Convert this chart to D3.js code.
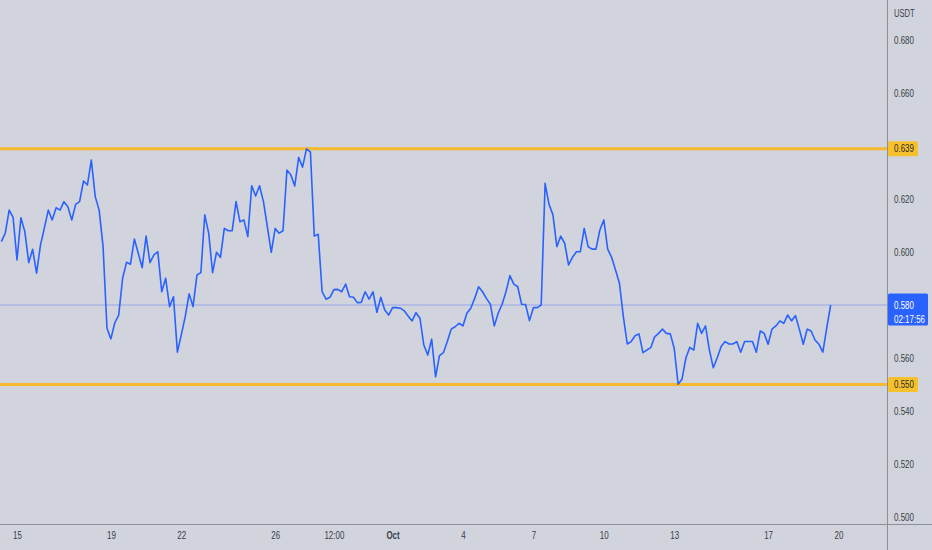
<!DOCTYPE html>
<html>
<head>
<meta charset="utf-8">
<script src="https://cdn.jsdelivr.net/npm/d3@7"></script>
<style>
  html, body { margin: 0; padding: 0; background: #d1d4dc; }
  svg { display: block; }
  text { font-family: "Liberation Sans", Arial, sans-serif; }
  .ax text { font-size: 10.5px; fill: #3b3e47; }
</style>
</head>
<body>
<svg id="chart" width="932" height="550"></svg>
<script>
// ---- data ----
const seriesStart = Date.UTC(2023, 8, 14, 8); // first 4h candle
const intervalHours = 4;
const closeValues = [
  0.6039,0.6071,0.6158,0.6131,0.5970,0.6129,0.6077,0.5960,0.6010,0.5920,
  0.6026,0.6091,0.6158,0.6121,0.6167,0.6158,0.6190,0.6171,0.6121,0.6180,
  0.6190,0.6268,0.6253,0.6347,0.6209,0.6158,0.6020,0.5712,0.5672,0.5733,
  0.5762,0.5901,0.5961,0.5954,0.6049,0.5995,0.5941,0.6060,0.5960,0.5989,
  0.6001,0.5850,0.5901,0.5794,0.5831,0.5622,0.5687,0.5756,0.5842,0.5794,
  0.5913,0.5922,0.6140,0.6071,0.5922,0.5999,0.5980,0.6089,0.6080,0.6080,
  0.6190,0.6114,0.6121,0.6058,0.6250,0.6211,0.6250,0.6190,0.6095,0.5999,
  0.6089,0.6071,0.6080,0.6309,0.6291,0.6249,0.6357,0.6320,0.6389,0.6378,
  0.6060,0.6067,0.5850,0.5822,0.5829,0.5858,0.5859,0.5850,0.5879,0.5831,
  0.5829,0.5809,0.5810,0.5850,0.5822,0.5850,0.5772,0.5829,0.5781,0.5762,
  0.5790,0.5790,0.5788,0.5778,0.5758,0.5740,0.5771,0.5750,0.5649,0.5611,
  0.5671,0.5529,0.5609,0.5620,0.5662,0.5709,0.5718,0.5731,0.5721,0.5769,
  0.5788,0.5825,0.5869,0.5850,0.5825,0.5803,0.5721,0.5769,0.5803,0.5850,
  0.5911,0.5879,0.5869,0.5803,0.5802,0.5741,0.5790,0.5790,0.5800,0.6259,
  0.6180,0.6140,0.6020,0.6060,0.6033,0.5951,0.5980,0.6001,0.6001,0.6089,
  0.6020,0.6011,0.6011,0.6083,0.6121,0.6011,0.5980,0.5932,0.5882,0.5756,
  0.5653,0.5662,0.5684,0.5691,0.5620,0.5630,0.5639,0.5680,0.5693,0.5709,
  0.5693,0.5691,0.5637,0.5501,0.5520,0.5601,0.5640,0.5630,0.5731,0.5693,
  0.5721,0.5630,0.5563,0.5601,0.5643,0.5662,0.5653,0.5653,0.5662,0.5622,
  0.5662,0.5662,0.5662,0.5622,0.5702,0.5693,0.5652,0.5709,0.5721,0.5740,
  0.5731,0.5762,0.5740,0.5760,0.5708,0.5652,0.5709,0.5702,0.5668,0.5652,
  0.5622,0.5714,0.5800
];
const levelValues = [0.639, 0.550];
const lastPrice = 0.580;
const countdown = "02:17:56";
const currency = "USDT";
const yTicks = [0.500,0.520,0.540,0.560,0.600,0.620,0.660,0.680];
const xTickDates = [
  Date.UTC(2023,8,15), Date.UTC(2023,8,19), Date.UTC(2023,8,22), Date.UTC(2023,8,26),
  Date.UTC(2023,8,28,12), Date.UTC(2023,9,1), Date.UTC(2023,9,4), Date.UTC(2023,9,7),
  Date.UTC(2023,9,10), Date.UTC(2023,9,13), Date.UTC(2023,9,17), Date.UTC(2023,9,20)
];
const xTickLabels = ["15","19","22","26","12:00","Oct","4","7","10","13","17","20"];

const points = closeValues.map((v, i) => ({ t: new Date(seriesStart + i * intervalHours * 3600e3), v }));

// ---- layout ----
const W = 932, H = 550;
const plotRight = 887, plotBottom = 524;
const squeeze = 0.76;
function condense(sel) {
  sel.each(function () {
    const w = this.getComputedTextLength();
    d3.select(this).attr("textLength", w * squeeze).attr("lengthAdjust", "spacingAndGlyphs");
  });
}

const svg = d3.select("#chart");
svg.append("rect").attr("width", W).attr("height", H).attr("fill", "#d1d4dc");

const x = d3.scaleUtc()
  .domain([new Date(Date.UTC(2023,8,15)), new Date(Date.UTC(2023,9,20))])
  .range([17, 838.5]);
const y = d3.scaleLinear().domain([0.5, 0.68]).range([517, 40]);

svg.append("defs").append("clipPath").attr("id", "plotClip")
  .append("rect").attr("x", 0).attr("y", 0).attr("width", plotRight).attr("height", plotBottom);

const plot = svg.append("g").attr("clip-path", "url(#plotClip)");

// current price line
plot.append("line")
  .attr("x1", 0).attr("x2", plotRight)
  .attr("y1", y(lastPrice)).attr("y2", y(lastPrice))
  .attr("stroke", "#9aa6ee").attr("stroke-width", 1);

// support / resistance levels
plot.selectAll("line.level").data(levelValues).join("line")
  .attr("class", "level")
  .attr("x1", 0).attr("x2", plotRight)
  .attr("y1", d => y(d)).attr("y2", d => y(d))
  .attr("stroke", "#f6b92b").attr("stroke-width", 3);

// price line
plot.append("path").datum(points)
  .attr("fill", "none")
  .attr("stroke", "#2962ff")
  .attr("stroke-width", 1.6)
  .attr("stroke-linejoin", "round")
  .attr("d", d3.line().x(d => x(d.t)).y(d => y(d.v)));

// axes lines
svg.append("line").attr("x1", 0).attr("x2", W).attr("y1", plotBottom + 0.5).attr("y2", plotBottom + 0.5)
  .attr("stroke", "#8c8f97").attr("stroke-width", 1);
svg.append("line").attr("x1", plotRight + 0.5).attr("x2", plotRight + 0.5).attr("y1", 0).attr("y2", H)
  .attr("stroke", "#8c8f97").attr("stroke-width", 1);

// y axis
const yAxis = svg.append("g").attr("class", "ax")
  .attr("transform", `translate(${plotRight},0)`)
  .call(d3.axisRight(y).tickValues(yTicks).tickFormat(d3.format(".3f")).tickSize(0).tickPadding(7));
yAxis.select(".domain").remove();
yAxis.selectAll("text").attr("font-family", null);
condense(yAxis.selectAll("text"));

// x axis
const xAxis = svg.append("g").attr("class", "ax")
  .attr("transform", `translate(0,${plotBottom})`)
  .call(d3.axisBottom(x).tickValues(xTickDates.map(d => new Date(d)))
    .tickFormat((d, i) => xTickLabels[i]).tickSize(0).tickPadding(8));
xAxis.select(".domain").remove();
xAxis.selectAll("text").attr("font-weight", (d, i) => xTickLabels[i] === "Oct" ? "bold" : null);
condense(xAxis.selectAll("text"));

// currency label
const cur = svg.append("text")
  .attr("x", 894).attr("y", 17)
  .attr("font-size", 10).attr("fill", "#3b3e47").text(currency);
condense(cur);

// level labels
levelValues.forEach(v => {
  const g = svg.append("g").attr("transform", `translate(${plotRight + 1},${y(v)})`);
  g.append("rect").attr("x", 0).attr("y", -7.5).attr("width", 30).attr("height", 15).attr("rx", 1.5)
    .attr("fill", "#f7c12e");
  g.append("g").attr("transform", `translate(6,0) scale(${squeeze},1)`)
    .append("text").attr("x", 0).attr("y", 0).attr("dy", "0.35em")
    .attr("font-size", 10.5).attr("fill", "#2a2a2a").text(d3.format(".3f")(v));
});

// last price label
const pl = svg.append("g").attr("transform", `translate(${plotRight + 1},${y(lastPrice)})`);
pl.append("rect").attr("x", 0).attr("y", -11.5).attr("width", 40).attr("height", 32).attr("rx", 1.5)
  .attr("fill", "#2962ff");
pl.append("g").attr("transform", `translate(6,0) scale(${squeeze},1)`)
  .append("text").attr("x", 0).attr("y", 0).attr("dy", "0.35em")
  .attr("font-size", 10.5).attr("fill", "#ffffff").text(d3.format(".3f")(lastPrice));
pl.append("g").attr("transform", `translate(6,14) scale(${squeeze},1)`)
  .append("text").attr("x", 0).attr("y", 0).attr("dy", "0.35em")
  .attr("font-size", 10.5).attr("fill", "#ffffff").text(countdown);
</script>
</body>
</html>
